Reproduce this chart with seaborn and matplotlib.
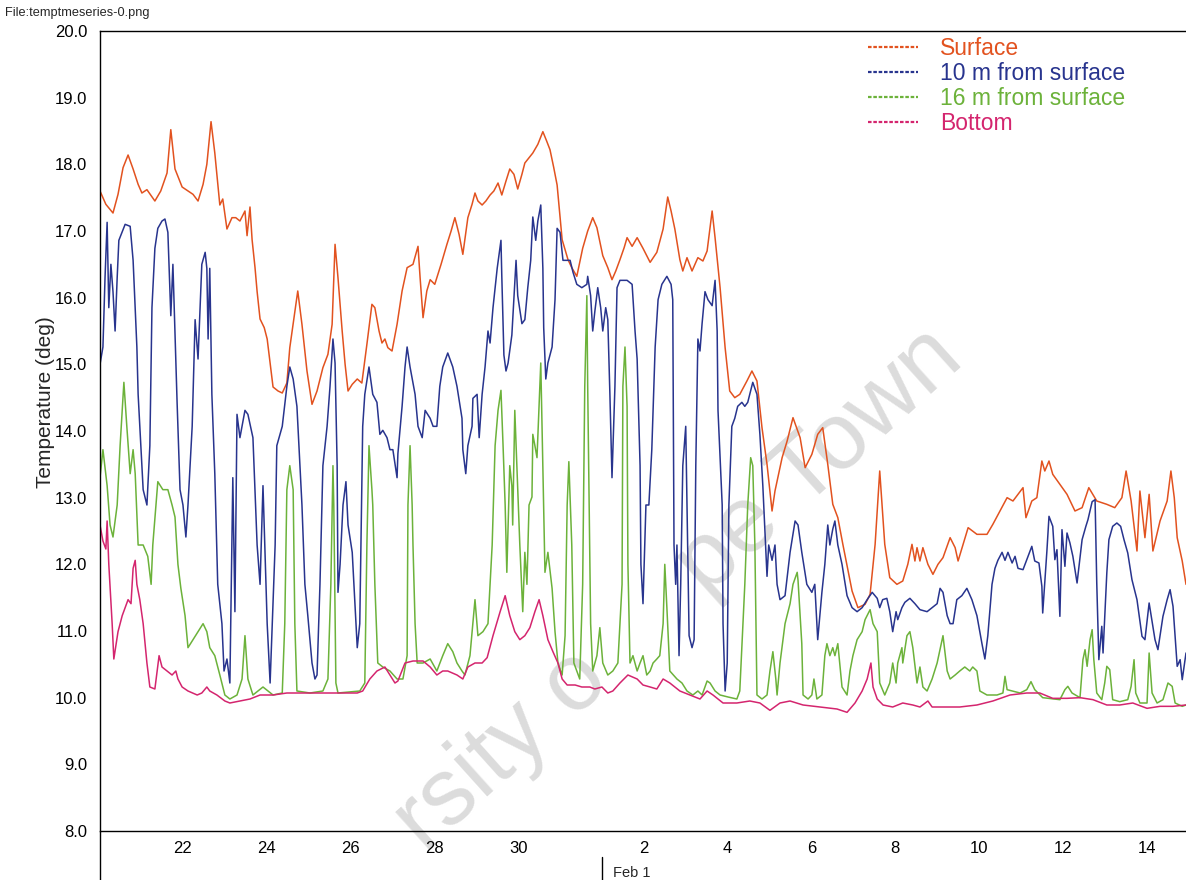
import matplotlib
matplotlib.use('Agg')
import matplotlib.pyplot as plt
import seaborn as sns
import pandas as pd
from matplotlib.lines import Line2D

# time axis: day counted from 1 Jan (so Feb 1 = day 32)
surf_day = [20.02, 20.16, 20.33, 20.45, 20.57, 20.69, 20.81, 20.93, 21.02, 21.14,
            21.33, 21.47, 21.62, 21.71, 21.81, 21.98, 22.12, 22.24, 22.36, 22.48,
            22.57, 22.67, 22.76, 22.88, 22.95, 23.05, 23.17, 23.26, 23.36, 23.48,
            23.53, 23.60, 23.65, 23.72, 23.77, 23.84, 23.94, 24.01, 24.15, 24.27,
            24.37, 24.48, 24.55, 24.65, 24.74, 24.84, 24.96, 25.08, 25.20, 25.34,
            25.46, 25.56, 25.63, 25.70, 25.80, 25.87, 25.94, 26.04, 26.16, 26.27,
            26.39, 26.51, 26.58, 26.68, 26.75, 26.82, 26.89, 26.99, 27.11, 27.23,
            27.35, 27.49, 27.61, 27.66, 27.73, 27.82, 27.90, 28.01, 28.16, 28.30,
            28.40, 28.49, 28.59, 28.68, 28.80, 28.90, 28.97, 29.04, 29.14, 29.23,
            29.33, 29.42, 29.52, 29.61, 29.71, 29.80, 29.90, 29.99, 30.09, 30.16,
            30.26, 30.35, 30.47, 30.59, 30.68, 30.76, 30.85, 30.93, 31.05, 31.19,
            31.28, 31.40, 31.54, 31.66, 31.78, 31.88, 32.02, 32.14, 32.24, 32.33,
            32.43, 32.53, 32.60, 32.72, 32.84, 32.98, 33.15, 33.31, 33.46, 33.57,
            33.65, 33.74, 33.86, 33.93, 34.03, 34.15, 34.29, 34.41, 34.51, 34.63,
            34.70, 34.82, 34.94, 35.05, 35.17, 35.29, 35.46, 35.58, 35.70, 35.82,
            35.94, 36.06, 36.13, 36.30, 36.42, 36.56, 36.73, 36.85, 37.01, 37.15,
            37.27, 37.39, 37.51, 37.63, 37.75, 37.97, 38.11, 38.28, 38.40, 38.52,
            38.63, 38.75, 38.87, 39.04, 39.18, 39.30, 39.40, 39.47, 39.52, 39.59,
            39.66, 39.78, 39.90, 40.02, 40.14, 40.31, 40.43, 40.50, 40.62, 40.74,
            40.95, 41.19, 41.33, 41.50, 41.67, 41.81, 41.93, 42.05, 42.12, 42.26,
            42.38, 42.50, 42.57, 42.67, 42.76, 42.93, 43.10, 43.29, 43.46, 43.62,
            43.81, 44.05, 44.24, 44.41, 44.51, 44.63, 44.77, 44.84, 44.96, 45.06,
            45.15, 45.32, 45.49, 45.58, 45.66, 45.73, 45.85, 45.94]
surf_temp = [17.6, 17.4, 17.27, 17.55, 17.95, 18.14, 17.93, 17.7, 17.57, 17.62,
             17.45, 17.6, 17.87, 18.52, 17.93, 17.66, 17.6, 17.55, 17.45, 17.7,
             18.0, 18.64, 18.17, 17.39, 17.48, 17.03, 17.2, 17.2, 17.15, 17.3,
             16.93, 17.36, 16.87, 16.45, 16.09, 15.68, 15.55, 15.38, 14.66, 14.6,
             14.57, 14.72, 15.25, 15.7, 16.1, 15.6, 14.9, 14.4, 14.6, 14.95,
             15.15, 15.6, 16.8, 16.3, 15.5, 15.0, 14.6, 14.7, 14.78, 14.72,
             15.3, 15.9, 15.85, 15.5, 15.32, 15.38, 15.25, 15.2, 15.6, 16.1,
             16.45, 16.5, 16.77, 16.3, 15.7, 16.1, 16.27, 16.2, 16.5, 16.8,
             17.0, 17.2, 16.95, 16.65, 17.2, 17.4, 17.57, 17.45, 17.39, 17.45,
             17.54, 17.6, 17.72, 17.54, 17.75, 17.93, 17.85, 17.63, 17.85, 18.02,
             18.1, 18.17, 18.3, 18.49, 18.35, 18.22, 17.95, 17.69, 16.87, 16.57,
             16.45, 16.32, 16.74, 17.0, 17.2, 17.05, 16.63, 16.45, 16.27, 16.4,
             16.57, 16.75, 16.9, 16.77, 16.9, 16.74, 16.53, 16.68, 17.03, 17.51,
             17.3, 17.03, 16.57, 16.4, 16.6, 16.4, 16.6, 16.55, 16.7, 17.3,
             16.9, 16.15, 15.25, 14.6, 14.5, 14.55, 14.75, 14.9, 14.75, 14.05,
             13.5, 12.8, 13.1, 13.6, 13.85, 14.2, 13.9, 13.45, 13.65, 13.95,
             14.05, 13.5, 12.9, 12.7, 12.3, 11.6, 11.35, 11.4, 11.55, 12.3,
             13.4, 12.3, 11.8, 11.7, 11.75, 12.0, 12.3, 12.05, 12.25, 12.05,
             12.25, 12.0, 11.85, 12.0, 12.1, 12.4, 12.25, 12.05, 12.3, 12.55,
             12.45, 12.45, 12.6, 12.8, 13.0, 12.95, 13.05, 13.15, 12.7, 12.95,
             13.0, 13.55, 13.4, 13.55, 13.35, 13.2, 13.05, 12.8, 12.85, 13.15,
             12.95, 12.9, 12.85, 13.0, 13.4, 12.95, 12.2, 13.1, 12.4, 13.05,
             12.2, 12.65, 12.95, 13.4, 13.0, 12.4, 12.05, 11.7]

m10_day = [20.02, 20.09, 20.14, 20.19, 20.23, 20.28, 20.33, 20.38, 20.43, 20.47,
           20.62, 20.74, 20.81, 20.90, 20.93, 20.97, 21.05, 21.14, 21.21, 21.26,
           21.33, 21.40, 21.50, 21.57, 21.64, 21.71, 21.76, 21.86, 21.93, 22.00,
           22.07, 22.12, 22.22, 22.29, 22.36, 22.45, 22.53, 22.57, 22.60, 22.64,
           22.69, 22.76, 22.83, 22.93, 22.98, 23.05, 23.12, 23.19, 23.24, 23.29,
           23.36, 23.48, 23.55, 23.67, 23.77, 23.84, 23.91, 24.01, 24.08, 24.20,
           24.24, 24.37, 24.48, 24.55, 24.63, 24.72, 24.84, 24.91, 24.98, 25.08,
           25.15, 25.20, 25.27, 25.34, 25.44, 25.51, 25.58, 25.63, 25.68, 25.70,
           25.75, 25.82, 25.89, 25.94, 26.04, 26.08, 26.16, 26.22, 26.29, 26.34,
           26.44, 26.53, 26.63, 26.70, 26.77, 26.87, 26.94, 27.01, 27.11, 27.13,
           27.23, 27.30, 27.35, 27.42, 27.54, 27.61, 27.71, 27.78, 27.90, 27.97,
           28.06, 28.13, 28.20, 28.32, 28.44, 28.54, 28.66, 28.68, 28.75, 28.80,
           28.90, 28.92, 29.02, 29.07, 29.14, 29.21, 29.28, 29.33, 29.40, 29.50,
           29.59, 29.61, 29.66, 29.71, 29.76, 29.85, 29.95, 29.99, 30.09, 30.16,
           30.23, 30.30, 30.35, 30.42, 30.47, 30.54, 30.59, 30.61, 30.66, 30.71,
           30.81, 30.88, 30.93, 31.00, 31.07, 31.17, 31.24, 31.31, 31.40, 31.52,
           31.64, 31.66, 31.73, 31.78, 31.83, 31.90, 31.97, 32.02, 32.09, 32.14,
           32.19, 32.24, 32.31, 32.36, 32.43, 32.60, 32.72, 32.79, 32.84, 32.91,
           32.93, 32.98, 33.05, 33.12, 33.19, 33.27, 33.34, 33.43, 33.55, 33.65,
           33.69, 33.72, 33.76, 33.79, 33.84, 33.88, 33.93, 34.00, 34.03, 34.08,
           34.15, 34.20, 34.24, 34.29, 34.34, 34.39, 34.46, 34.53, 34.63, 34.70,
           34.75, 34.77, 34.87, 34.89, 34.94, 34.99, 35.03, 35.10, 35.17, 35.24,
           35.34, 35.41, 35.48, 35.60, 35.70, 35.77, 35.84, 35.94, 35.98, 36.06,
           36.13, 36.18, 36.25, 36.37, 36.49, 36.61, 36.68, 36.77, 36.89, 37.01,
           37.08, 37.15, 37.25, 37.32, 37.39, 37.44, 37.51, 37.56, 37.63, 37.73,
           37.85, 37.97, 38.09, 38.21, 38.33, 38.45, 38.57, 38.63, 38.70, 38.80,
           38.87, 38.94, 39.02, 39.06, 39.16, 39.23, 39.35, 39.47, 39.59, 39.76,
           39.88, 40.00, 40.07, 40.14, 40.24, 40.31, 40.38, 40.47, 40.59, 40.71,
           40.83, 40.95, 41.07, 41.14, 41.21, 41.31, 41.38, 41.45, 41.55, 41.62,
           41.69, 41.79, 41.86, 41.93, 42.05, 42.14, 42.26, 42.33, 42.43, 42.50,
           42.52, 42.62, 42.67, 42.76, 42.81, 42.86, 42.93, 42.98, 43.05, 43.10,
           43.17, 43.24, 43.34, 43.46, 43.55, 43.60, 43.70, 43.77, 43.81, 43.86,
           43.93, 43.96, 44.05, 44.10, 44.19, 44.29, 44.38, 44.46, 44.55, 44.65,
           44.77, 44.89, 44.96, 45.06, 45.15, 45.20, 45.27, 45.39, 45.49, 45.56,
           45.63, 45.73, 45.80, 45.85, 45.94]
m10_temp = [15.0, 15.26, 16.3, 17.13, 15.85, 16.5, 16.09, 15.5, 16.3, 16.86,
            17.1, 17.07, 16.56, 15.26, 14.55, 14.07, 13.12, 12.89, 13.78, 15.85,
            16.74, 17.04, 17.15, 17.18, 16.98, 15.73, 16.5, 14.43, 13.12, 12.89,
            12.41, 12.89, 14.07, 15.67, 15.08, 16.5, 16.68, 16.44, 15.38, 16.44,
            14.55, 13.36, 11.7, 11.11, 10.4, 10.58, 10.22, 13.3, 11.29, 14.25,
            13.9, 14.31, 14.25, 13.9, 12.29, 11.7, 13.18, 11.11, 10.22, 12.29,
            13.78, 14.07, 14.67, 14.96, 14.78, 14.37, 12.89, 11.7, 11.23, 10.52,
            10.28, 10.34, 11.7, 13.48, 14.07, 14.67, 15.38, 15.02, 13.48, 11.58,
            12.0, 12.89, 13.24, 12.59, 12.18, 11.7, 10.75, 11.11, 14.07, 14.55,
            14.96, 14.55, 14.43, 13.95, 14.01, 13.9, 13.72, 13.72, 13.3, 13.66,
            14.37, 14.96, 15.26, 14.96, 14.55, 14.07, 13.9, 14.31, 14.19, 14.07,
            14.07, 14.67, 14.96, 15.17, 14.96, 14.67, 14.19, 13.72, 13.36, 13.78,
            14.07, 14.49, 14.55, 13.9, 14.55, 14.96, 15.5, 15.32, 15.85, 16.44,
            16.86, 16.32, 15.14, 14.9, 15.02, 15.44, 16.56, 16.03, 15.61, 15.67,
            16.15, 16.56, 17.21, 16.86, 17.15, 17.39, 16.44, 15.55, 14.78, 15.02,
            15.26, 15.97, 17.04, 16.98, 16.56, 16.56, 16.56, 16.38, 16.2, 16.15,
            16.2, 16.32, 16.03, 15.5, 15.79, 16.15, 15.85, 15.5, 15.85, 15.67,
            14.55, 13.3, 14.67, 16.15, 16.26, 16.26, 16.2, 15.5, 15.08, 13.48,
            12.0, 11.41, 12.89, 12.89, 13.72, 15.26, 15.97, 16.2, 16.32, 16.2,
            15.97, 12.29, 11.7, 12.29, 10.63, 11.7, 13.48, 14.07, 12.89, 10.93,
            10.75, 10.87, 13.48, 15.38, 15.2, 15.61, 16.09, 15.97, 15.88, 16.26,
            15.5, 14.31, 12.89, 11.11, 10.1, 10.52, 12.89, 14.07, 14.19, 14.37,
            14.43, 14.37, 14.43, 14.73, 14.55, 13.95, 13.18, 11.82, 12.29, 12.06,
            12.29, 11.7, 11.47, 11.53, 12.18, 12.65, 12.59, 12.18, 11.7, 11.58,
            11.7, 10.87, 11.58, 12.0, 12.59, 12.29, 12.53, 12.65, 12.29, 12.0,
            11.53, 11.35, 11.29, 11.35, 11.47, 11.58, 11.49, 11.35, 11.47, 11.49,
            11.29, 10.99, 11.29, 11.17, 11.35, 11.43, 11.49, 11.41, 11.32, 11.29,
            11.35, 11.41, 11.64, 11.58, 11.23, 11.11, 11.11, 11.47, 11.53, 11.64,
            11.47, 11.23, 10.81, 10.58, 10.93, 11.7, 11.94, 12.06, 12.18, 12.06,
            12.18, 12.02, 12.12, 11.94, 11.92, 12.07, 12.27, 12.05, 12.02, 11.67,
            11.27, 12.2, 12.72, 12.57, 12.07, 12.22, 11.22, 12.52, 11.97, 12.47,
            12.32, 12.12, 11.72, 12.37, 12.57, 12.67, 12.94, 12.97, 11.72, 10.57,
            11.07, 10.67, 11.87, 12.37, 12.57, 12.62, 12.57, 12.37, 12.17, 11.77,
            11.47, 10.92, 10.87, 11.42, 11.07, 10.87, 10.72, 11.22, 11.47, 11.62,
            11.37, 10.47, 10.57, 10.27, 10.67]

m16_day = [20.02, 20.09, 20.19, 20.26, 20.33, 20.43, 20.50, 20.59, 20.66, 20.74,
           20.81, 20.86, 20.93, 21.05, 21.16, 21.24, 21.28, 21.40, 21.52, 21.64,
           21.74, 21.81, 21.88, 21.95, 22.05, 22.12, 22.24, 22.36, 22.48, 22.57,
           22.64, 22.76, 22.88, 23.00, 23.12, 23.29, 23.41, 23.48, 23.55, 23.67,
           23.91, 24.15, 24.37, 24.43, 24.48, 24.55, 24.63, 24.67, 24.72, 25.03,
           25.34, 25.46, 25.53, 25.58, 25.60, 25.65, 25.70, 26.22, 26.34, 26.39,
           26.44, 26.51, 26.53, 26.58, 26.65, 26.77, 26.94, 27.11, 27.25, 27.35,
           27.37, 27.42, 27.47, 27.49, 27.54, 27.59, 27.73, 27.90, 28.06, 28.20,
           28.32, 28.44, 28.54, 28.66, 28.73, 28.85, 28.97, 29.04, 29.16, 29.28,
           29.38, 29.45, 29.52, 29.59, 29.64, 29.69, 29.73, 29.80, 29.85, 29.87,
           29.92, 29.97, 30.04, 30.11, 30.16, 30.21, 30.26, 30.33, 30.35, 30.40,
           30.45, 30.50, 30.54, 30.59, 30.64, 30.71, 30.81, 30.88, 30.95, 31.05,
           31.12, 31.17, 31.21, 31.28, 31.33, 31.40, 31.47, 31.54, 31.59, 31.64,
           31.66, 31.73, 31.78, 31.88, 31.95, 32.02, 32.14, 32.26, 32.38, 32.48,
           32.50, 32.55, 32.60, 32.62, 32.67, 32.74, 32.84, 32.91, 32.98, 33.07,
           33.15, 33.22, 33.31, 33.38, 33.46, 33.50, 33.55, 33.62, 33.79, 33.91,
           34.03, 34.17, 34.29, 34.39, 34.51, 34.58, 34.70, 34.82, 35.01, 35.22,
           35.29, 35.41, 35.48, 35.55, 35.60, 35.65, 35.70, 35.82, 35.94, 36.01,
           36.08, 36.15, 36.18, 36.25, 36.37, 36.49, 36.56, 36.66, 36.68, 36.77,
           36.80, 36.92, 37.01, 37.06, 37.13, 37.25, 37.32, 37.37, 37.44, 37.51,
           37.56, 37.63, 37.73, 37.85, 37.92, 37.99, 38.09, 38.21, 38.28, 38.40,
           38.47, 38.57, 38.63, 38.75, 38.87, 38.94, 39.02, 39.06, 39.16, 39.18,
           39.28, 39.35, 39.42, 39.52, 39.59, 39.66, 39.76, 39.88, 40.00, 40.12,
           40.14, 40.24, 40.31, 40.43, 40.54, 40.66, 40.78, 40.85, 40.95, 41.02,
           41.19, 41.43, 41.57, 41.62, 41.67, 41.98, 42.14, 42.24, 42.33, 42.52,
           42.93, 43.05, 43.12, 43.22, 43.41, 43.48, 43.53, 43.58, 43.65, 43.70,
           43.74, 43.81, 43.93, 44.00, 44.05, 44.12, 44.19, 44.36, 44.55, 44.63,
           44.70, 44.74, 44.84, 45.01, 45.06, 45.13, 45.25, 45.39, 45.51, 45.61,
           45.68, 45.85, 45.94]
m16_temp = [13.3, 13.72, 13.18, 12.59, 12.41, 12.89, 13.78, 14.73, 14.07, 13.36,
            13.72, 13.36, 12.29, 12.29, 12.12, 11.7, 12.29, 13.24, 13.12, 13.12,
            12.89, 12.71, 12.0, 11.64, 11.23, 10.75, 10.87, 10.99, 11.11, 10.99,
            10.75, 10.63, 10.34, 10.04, 9.98, 10.04, 10.28, 10.93, 10.28, 10.04,
            10.16, 10.04, 10.07, 11.11, 13.12, 13.48, 13.12, 11.11, 10.1, 10.07,
            10.1, 10.28, 11.7, 13.48, 12.89, 10.22, 10.07, 10.1, 10.22, 12.29,
            13.78, 13.12, 12.89, 11.7, 10.52, 10.46, 10.4, 10.28, 10.28, 10.63,
            12.89, 13.78, 12.89, 12.29, 11.11, 10.52, 10.52, 10.58, 10.4, 10.63,
            10.81, 10.69, 10.52, 10.4, 10.34, 10.63, 11.47, 10.93, 10.99, 11.11,
            12.29, 13.78, 14.31, 14.61, 13.78, 12.89, 11.88, 13.48, 13.18, 12.59,
            14.31, 13.48, 12.29, 11.29, 12.18, 11.7, 12.89, 13.01, 13.95, 13.78,
            13.6, 14.37, 15.02, 13.48, 11.88, 12.18, 11.64, 10.99, 10.52, 10.34,
            10.93, 12.89, 13.54, 12.29, 10.52, 10.4, 10.28, 11.7, 14.67, 16.03,
            14.67, 11.11, 10.4, 10.63, 11.05, 10.52, 10.34, 10.4, 10.52, 11.7,
            14.67, 15.26, 14.37, 12.0, 10.52, 10.63, 10.4, 10.52, 10.63, 10.34,
            10.4, 10.52, 10.58, 10.63, 11.11, 12.0, 11.35, 10.4, 10.28, 10.22,
            10.1, 10.04, 10.1, 10.04, 10.25, 10.22, 10.1, 10.04, 10.01, 9.98,
            10.1, 11.7, 12.89, 13.6, 13.48, 12.29, 10.04, 9.98, 10.04, 10.4,
            10.69, 10.28, 10.04, 10.52, 11.11, 11.41, 11.7, 11.88, 11.76, 10.81,
            10.04, 9.98, 10.04, 10.28, 9.98, 10.04, 10.63, 10.81, 10.63, 10.75,
            10.63, 10.81, 10.16, 10.04, 10.4, 10.63, 10.87, 10.99, 11.17, 11.32,
            11.11, 10.99, 10.22, 10.04, 10.22, 10.52, 10.22, 10.52, 10.75, 10.52,
            10.93, 10.99, 10.75, 10.22, 10.46, 10.16, 10.1, 10.28, 10.52, 10.87,
            10.93, 10.4, 10.28, 10.34, 10.4, 10.46, 10.4, 10.46, 10.4, 10.1,
            10.04, 10.04, 10.07, 10.32, 10.12, 10.07, 10.12, 10.24, 10.12, 10.0,
            9.97, 10.12, 10.17, 10.07, 10.0, 10.57, 10.72, 10.47, 10.87, 11.02,
            10.57, 10.07, 9.97, 10.22, 10.47, 10.42, 9.97, 9.94, 9.97, 10.17,
            10.57, 10.07, 9.92, 9.92, 10.67, 10.07, 9.92, 9.97, 10.22, 10.17,
            9.92, 9.87, 9.89]

bot_day = [20.02, 20.09, 20.16, 20.19, 20.23, 20.31, 20.35, 20.45, 20.55, 20.62,
           20.69, 20.76, 20.81, 20.86, 20.90, 20.97, 21.05, 21.14, 21.21, 21.33,
           21.43, 21.50, 21.62, 21.74, 21.83, 21.88, 21.98, 22.12, 22.34, 22.45,
           22.57, 22.64, 22.81, 23.00, 23.12, 23.36, 23.60, 23.84, 24.15, 24.48,
           25.34, 26.16, 26.29, 26.46, 26.63, 26.82, 26.94, 27.06, 27.13, 27.30,
           27.49, 27.73, 27.90, 28.06, 28.20, 28.32, 28.54, 28.68, 28.80, 28.97,
           29.14, 29.26, 29.40, 29.57, 29.69, 29.80, 29.92, 30.04, 30.16, 30.28,
           30.40, 30.50, 30.59, 30.71, 30.83, 30.95, 31.05, 31.17, 31.36, 31.52,
           31.71, 31.83, 32.00, 32.14, 32.26, 32.43, 32.62, 32.84, 32.98, 33.15,
           33.31, 33.46, 33.62, 33.86, 34.10, 34.34, 34.51, 34.65, 34.89, 35.22,
           35.53, 35.77, 36.01, 36.25, 36.49, 36.80, 37.20, 37.61, 37.85, 38.04,
           38.21, 38.33, 38.42, 38.47, 38.57, 38.71, 38.94, 39.18, 39.42, 39.59,
           39.78, 39.88, 40.14, 40.54, 40.95, 41.33, 41.74, 42.14, 42.45, 42.76,
           43.10, 43.41, 43.72, 44.05, 44.36, 44.67, 45.01, 45.32, 45.63, 45.94]
bot_temp = [12.59, 12.35, 12.23, 12.65, 12.0, 11.11, 10.58, 10.99, 11.23, 11.35,
            11.47, 11.41, 11.94, 12.06, 11.7, 11.47, 11.11, 10.52, 10.16, 10.13,
            10.63, 10.46, 10.4, 10.34, 10.4, 10.28, 10.16, 10.1, 10.04, 10.07,
            10.16, 10.1, 10.04, 9.95, 9.92, 9.95, 9.98, 10.04, 10.04, 10.07,
            10.07, 10.07, 10.1, 10.28, 10.4, 10.46, 10.34, 10.22, 10.25, 10.52,
            10.55, 10.55, 10.46, 10.34, 10.4, 10.4, 10.34, 10.28, 10.46, 10.52,
            10.52, 10.6, 10.93, 11.29, 11.53, 11.23, 10.99, 10.87, 10.93, 11.05,
            11.29, 11.47, 11.23, 10.87, 10.69, 10.52, 10.28, 10.19, 10.19, 10.16,
            10.16, 10.13, 10.16, 10.07, 10.1, 10.22, 10.34, 10.28, 10.19, 10.16,
            10.13, 10.28, 10.22, 10.1, 10.04, 9.98, 10.1, 10.04, 9.92, 9.92,
            9.95, 9.92, 9.81, 9.92, 9.95, 9.89, 9.86, 9.83, 9.78, 9.92,
            10.1, 10.28, 10.52, 10.16, 9.98, 9.89, 9.86, 9.92, 9.89, 9.86,
            9.95, 9.86, 9.86, 9.86, 9.89, 9.95, 10.04, 10.07, 10.07, 9.99,
            9.99, 10.0, 9.97, 9.89, 9.89, 9.92, 9.84, 9.87, 9.87, 9.89]

series_names = ['Surface', '10 m from surface', '16 m from surface', 'Bottom']
series_colors = ['#e2521f', '#28348e', '#6cb23a', '#d4256e']

tick_days = [22, 24, 26, 28, 30, 32, 33, 35, 37, 39, 41, 43, 45]
tick_labels = ['22', '24', '26', '28', '30', '', '2', '4', '6', '8', '10', '12', '14']

# long table for seaborn
frames = []
for name, d, t in zip(series_names,
                      [surf_day, m10_day, m16_day, bot_day],
                      [surf_temp, m10_temp, m16_temp, bot_temp]):
    frames.append(pd.DataFrame({'day': d, 'temp': t, 'series': name}))
df = pd.concat(frames, ignore_index=True)

sns.set_theme(style='white')
plt.rcParams['font.family'] = ['Liberation Sans', 'DejaVu Sans']

fig = plt.figure(figsize=(11.86, 8.8), dpi=100)
ax = fig.add_axes([100 / 1186, 49 / 880, 1086 / 1186, 800 / 880])

# faint scan watermark behind the lines (only these two pieces show)
wm = dict(transform=fig.transFigure, rotation=42, rotation_mode='anchor',
          ha='center', va='center', fontsize=68, color='#dcdcdc', zorder=0.5)
ax.text(0.423, 0.147, 'rsity o', **wm)
ax.text(0.691, 0.475, 'pe Town', **wm)

sns.lineplot(data=df, x='day', y='temp', hue='series', hue_order=series_names,
             palette=dict(zip(series_names, series_colors)), estimator=None,
             sort=False, linewidth=1.1, legend=False, ax=ax)

ax.set_xlim(20.02, 45.94)
ax.set_ylim(8, 20)
ax.set_xticks(tick_days)
ax.set_xticklabels(tick_labels)
ax.set_yticks(range(8, 21))
ax.set_yticklabels([f'{v:.1f}' for v in range(8, 21)])
ax.tick_params(axis='x', direction='inout', length=8, width=0.9, labelsize=12,
               pad=3, colors='black')
ax.tick_params(axis='y', direction='out', length=7, width=0.9, labelsize=12,
               pad=2, colors='black')
ax.set_xlabel('')
ax.set_ylabel('Temperature (deg)', fontsize=15)
ax.yaxis.set_label_coords(-0.041, 0.536)

for side in ['left', 'bottom', 'top']:
    ax.spines[side].set_color('black')
    ax.spines[side].set_linewidth(1.0)
ax.spines['right'].set_visible(False)

# left axis runs on below the date axis
ax.plot([0, 0], [0, -0.062], transform=ax.transAxes, clip_on=False,
        color='black', lw=1.0)

# Feb 1 marker under the axis
ax.plot([32, 32], [-0.032, -0.062], transform=ax.get_xaxis_transform(),
        clip_on=False, color='black', lw=1.0)
ax.text(32.26, -0.053, 'Feb 1', transform=ax.get_xaxis_transform(),
        fontsize=10.5, ha='left', va='center')

handles = [Line2D([], [], color=c, lw=1.6, linestyle=(0, (1.6, 0.8)))
           for c in series_colors]
leg = ax.legend(handles, series_names, loc='upper left',
                bbox_to_anchor=(0.705, 0.995), frameon=False, fontsize=16.5,
                handlelength=2.2, handletextpad=0.95, labelspacing=0.08,
                borderaxespad=0, borderpad=0.1)
for txt, c in zip(leg.get_texts(), series_colors):
    txt.set_color(c)

fig.text(0.004, 0.985, 'File:temptmeseries-0.png', fontsize=9.2, va='center')

fig.savefig('out.png', dpi=100)
